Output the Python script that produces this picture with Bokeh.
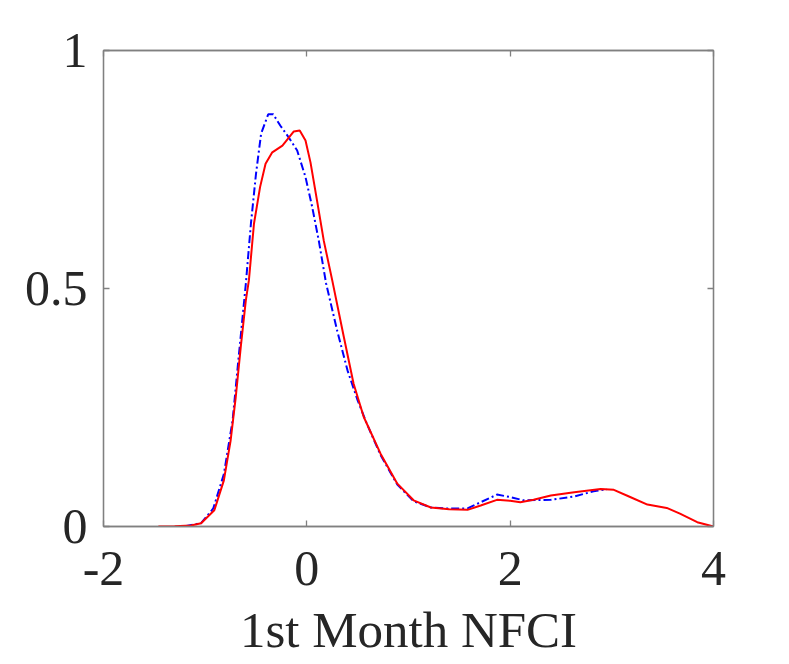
from bokeh.plotting import figure
from bokeh.models import Range1d, LinearAxis, FixedTicker
from bokeh.embed import file_html
from bokeh.resources import INLINE

# Red solid series
red_x = [-1.46, -1.3, -1.14, -1.04, -0.91, -0.816, -0.75, -0.70, -0.65, -0.60, -0.57, -0.52, -0.46,
         -0.406, -0.34, -0.24, -0.128, -0.07, -0.013, 0.036, 0.10, 0.167, 0.25, 0.364, 0.46, 0.56,
         0.725, 0.89, 1.05, 1.22, 1.4, 1.58, 1.71, 1.87, 2.0, 2.10, 2.23, 2.40, 2.63, 2.89, 3.02,
         3.18, 3.35, 3.54, 3.67, 3.84, 4.0]
red_y = [0.0, 0.0005, 0.002, 0.007, 0.034, 0.097, 0.18, 0.27, 0.377, 0.475, 0.517, 0.636, 0.713,
         0.762, 0.786, 0.80, 0.83, 0.832, 0.811, 0.765, 0.685, 0.60, 0.517, 0.398, 0.30, 0.23,
         0.153, 0.09, 0.055, 0.04, 0.036, 0.035, 0.044, 0.056, 0.054, 0.051, 0.056, 0.065, 0.072,
         0.079, 0.077, 0.062, 0.046, 0.039, 0.027, 0.009, 0.0]

# Blue dash-dot series
blue_x = [-1.2, -1.04, -0.92, -0.816, -0.73, -0.68, -0.60, -0.55, -0.50, -0.45, -0.38, -0.33,
          -0.26, -0.18, -0.095, -0.013, 0.053, 0.118, 0.19, 0.30, 0.40, 0.50, 0.59, 0.725, 0.89,
          1.05, 1.22, 1.35, 1.58, 1.71, 1.87, 2.0, 2.13, 2.40, 2.63, 2.82, 2.95]
blue_y = [0.0005, 0.007, 0.038, 0.11, 0.223, 0.335, 0.51, 0.636, 0.741, 0.825, 0.866, 0.866,
          0.842, 0.818, 0.79, 0.734, 0.671, 0.60, 0.51, 0.41, 0.328, 0.265, 0.216, 0.15, 0.088,
          0.053, 0.04, 0.038, 0.038, 0.051, 0.067, 0.062, 0.055, 0.056, 0.063, 0.074, 0.078]

x_ticks = [-2, 0, 2, 4]
x_tick_labels = {-2: "-2", 0: "0", 2: "2", 4: "4"}
y_ticks = [0, 0.5, 1]
y_tick_labels = {0: "0", 0.5: "0.5", 1: "1"}
x_label = "1st Month NFCI"

FONT = "Liberation Serif"
AX = "#808080"
TXT = "#262626"

p = figure(width=773, height=660, output_backend="svg", toolbar_location=None,
           x_range=Range1d(-2, 4), y_range=Range1d(0, 1),
           min_border_left=103, min_border_right=60, min_border_top=50, min_border_bottom=134)
p.grid.visible = False
p.outline_line_color = AX
p.outline_line_width = 1.3
p.background_fill_color = "white"
p.border_fill_color = "white"

def style(ax, ticks, labels, show_labels=True):
    ax.ticker = FixedTicker(ticks=ticks)
    ax.major_label_overrides = labels
    ax.axis_line_color = AX
    ax.axis_line_width = 1.3
    ax.major_tick_line_color = AX
    ax.major_tick_line_width = 1.3
    ax.major_tick_in = 6
    ax.major_tick_out = 0
    ax.minor_tick_line_color = None
    ax.major_label_text_font = FONT
    ax.major_label_text_font_size = "50px"
    ax.major_label_text_color = TXT
    if not show_labels:
        ax.major_label_text_font_size = "0px"
        ax.major_label_text_color = None

style(p.xaxis[0], x_ticks, x_tick_labels)
style(p.yaxis[0], y_ticks, y_tick_labels)
p.xaxis[0].major_label_standoff = 25
p.yaxis[0].major_label_standoff = 16
p.xaxis[0].axis_label = x_label
p.xaxis[0].axis_label_text_font = FONT
p.xaxis[0].axis_label_text_font_size = "51px"
p.xaxis[0].axis_label_text_font_style = "normal"
p.xaxis[0].axis_label_text_color = TXT
p.xaxis[0].axis_label_standoff = 14

top = LinearAxis()
style(top, x_ticks, x_tick_labels, show_labels=False)
p.add_layout(top, "above")
right = LinearAxis()
style(right, y_ticks, y_tick_labels, show_labels=False)
p.add_layout(right, "right")

p.line(blue_x, blue_y, line_color="#0000FF", line_width=2, line_dash="8 3 2 3")
p.line(red_x, red_y, line_color="#FF0000", line_width=2)

open("out.html", "w").write(file_html(p, INLINE))
